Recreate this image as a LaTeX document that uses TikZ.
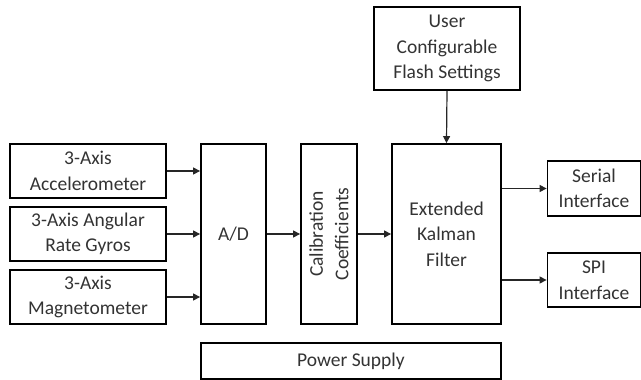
\documentclass[tikz,border=0pt]{standalone}
\usepackage{fontspec}
\setmainfont{Carlito}
\usetikzlibrary{arrows.meta}
\begin{document}
\begin{tikzpicture}[x=1pt,y=-1pt,
  blk/.style={draw=black, line width=1.8pt, inner sep=0pt, align=center, text=black!80,
    font=\fontsize{19.5}{25.5}\selectfont},
  conn/.style={draw=black!85, line width=1.2pt, -{Triangle[length=7pt,width=7pt]}}]
\useasboundingbox (0,0) rectangle (641,380);
\node[blk, minimum width=146pt, minimum height=83pt] (user) at (447,48.5) {User\\Configurable\\Flash Settings};
\node[blk, minimum width=156pt, minimum height=54pt] (acc) at (88,171) {3-Axis\\Accelerometer};
\node[blk, minimum width=156pt, minimum height=54pt] (gyro) at (88,234) {3-Axis Angular\\Rate Gyros};
\node[blk, minimum width=156pt, minimum height=54pt] (mag) at (88,297) {3-Axis\\Magnetometer};
\node[blk, minimum width=65pt, minimum height=180pt] (ad) at (233.5,234) {A/D};
\node[blk, rotate=90, minimum width=180pt, minimum height=56pt] (cal) at (329,234) {Calibration\\Coefficients};
\node[blk, minimum width=109pt, minimum height=180pt] (ekf) at (446.5,234) {Extended\\Kalman\\Filter};
\node[blk, minimum width=93pt, minimum height=55pt] (ser) at (594,188.5) {Serial\\Interface};
\node[blk, minimum width=93pt, minimum height=54pt] (spi) at (594,280) {SPI\\Interface};
\node[blk, minimum width=300pt, minimum height=36pt] (pwr) at (351,361) {Power Supply};
\draw[conn] (acc.east) -- (acc.east -| ad.west);
\draw[conn] (gyro.east) -- (gyro.east -| ad.west);
\draw[conn] (mag.east) -- (mag.east -| ad.west);
\draw[conn] (ad.east) -- (ad.east -| cal.north);
\draw[conn] (cal.south) -- (cal.south -| ekf.west);
\draw[conn] (user.south) -- (ekf.north);
\draw[conn] (ekf.east |- ser.west) -- (ser.west);
\draw[conn] (ekf.east |- spi.west) -- (spi.west);
\end{tikzpicture}
\end{document}
